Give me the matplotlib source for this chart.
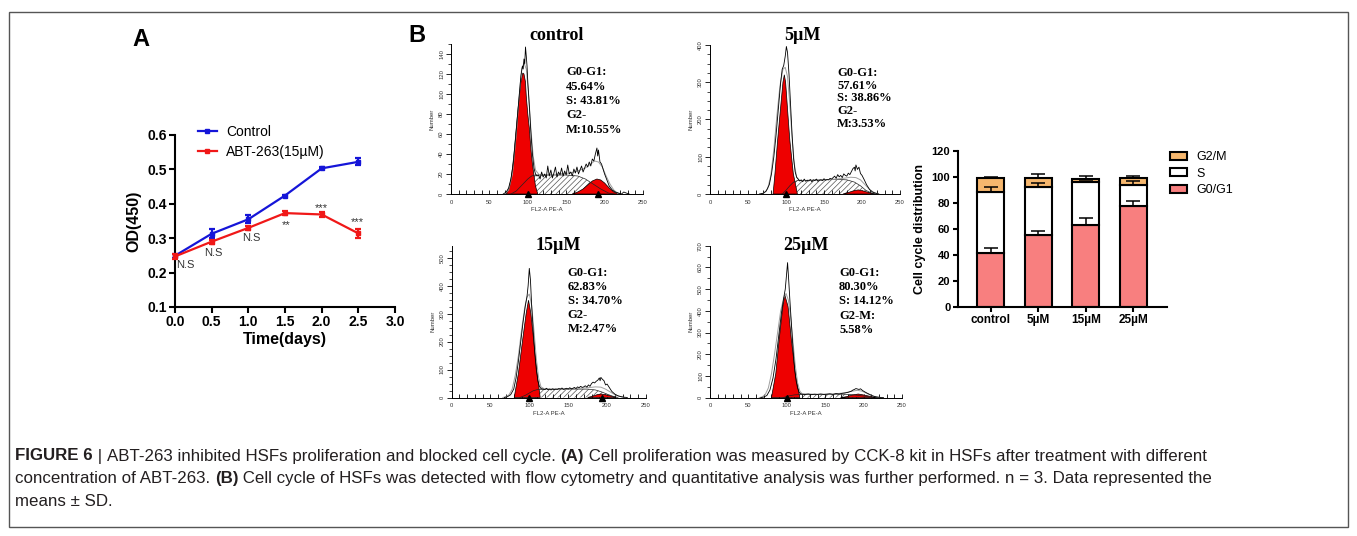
import matplotlib
matplotlib.use('Agg')
import matplotlib.pyplot as plt
from matplotlib.patches import Rectangle
from matplotlib.ticker import MultipleLocator
import numpy as np

plt.rcParams['font.family'] = ['Liberation Sans', 'DejaVu Sans']
plt.rcParams['hatch.linewidth'] = 0.5

# ---------------- Panel A data ----------------
time_days = [0.0, 0.5, 1.0, 1.5, 2.0, 2.5]
od_control = [0.249, 0.313, 0.355, 0.424, 0.503, 0.522]
od_control_err = [0.006, 0.013, 0.011, 0.003, 0.003, 0.010]
od_abt = [0.247, 0.290, 0.330, 0.373, 0.369, 0.314]
od_abt_err = [0.008, 0.006, 0.006, 0.007, 0.006, 0.012]
sig_labels = ['N.S', 'N.S', 'N.S', '**', '***', '***']
sig_y = [0.222, 0.257, 0.300, 0.338, 0.388, 0.348]
sig_x = [0.136, 0.52, 1.046, 1.51, 1.99, 2.49]

# ---------------- Panel B histogram data ----------------
# control
CTRL_RAW_X = [68,72,75,78,81,84,87,89,91,93,94,95,96,97,98,99,100,102,104,106,108,110,112,114,116,118,120,122,124,126,128,130,132,134,136,138,140,142,144,146,148,150,152,154,156,158,160,162,164,166,168,170,172,174,176,178,180,182,184,186,188,190,191,192,194,196,198,200,203,206,210,214,218,222,225,228,232]
CTRL_RAW_Y = [0,2,6,15,30,55,82,100,118,128,125,135,130,147,138,128,112,88,62,40,26,20,18,19,15,22,17,20,16,28,18,24,16,21,27,17,22,19,26,18,23,19,29,20,22,18,25,21,27,20,24,28,22,26,30,27,32,28,35,33,40,46,38,44,32,30,25,20,14,8,4,2,1,0,2,1,0]
CTRL_ENV_X = [70,75,80,85,89,92,95,98,101,104,107,110,115,125,140,155,165,175,182,187,192,197,202,207,212,218]
CTRL_ENV_Y = [0,4,20,60,100,125,131,125,100,65,38,24,19,19,20,21,23,26,30,33,32,27,18,10,4,0]
CTRL_S_X = [78,85,90,95,100,105,110,130,150,165,175,185,195,205,212]
CTRL_S_Y = [0,3,7,11,15,18,19,19,19,18,15,10,5,1,0]
CTRL_G1_X = [72,76,79,82,85,87,89,91,93.5,95,97,98,100,102,104,106,108,110,113]
CTRL_G1_Y = [0,6,19,40,66,83,98,112,121,120,112,98,80,66,45,30,19,8,0]
CTRL_G2_X = [158,165,172,178,184,190,195,200,206,212,220]
CTRL_G2_Y = [0,2,5,9,13,15,14,11,6,2,0]
CTRL_MARKS = [100, 192]
CTRL_TEXT = ['G0-G1:', '45.64%', 'S: 43.81%', 'G2-', 'M:10.55%']

# 5 uM
UM5_RAW_X = [65,70,74,78,81,84,87,90,93,95,97,99,100.5,102,104,106,108,110,112,114,116,118,120,122,124,126,128,130,132,134,136,138,140,142,144,146,148,150,152,154,156,158,160,162,164,166,168,170,172,174,176,178,180,182,184,186,188,190,191,192,194,196,198,200,203,206,210,214,218,222]
UM5_RAW_Y = [0,2,8,25,55,100,160,230,300,335,345,370,396,380,320,240,160,95,60,45,40,35,38,33,40,34,37,35,39,33,38,36,40,34,37,38,36,41,37,39,38,42,40,44,48,42,52,46,50,44,54,50,48,56,52,60,68,72,62,78,66,72,55,50,38,25,12,5,2,0]
UM5_ENV_X = [68,72,76,80,84,88,92,96,99,102,105,108,111,114,118,130,150,165,175,185,192,198,204,210,216,222]
UM5_ENV_Y = [0,4,15,50,120,210,290,335,340,315,240,150,80,45,36,36,38,40,42,45,44,38,25,12,4,0]
UM5_S_X = [95,100,105,110,115,130,150,170,180,190,198,205,212,218]
UM5_S_Y = [0,10,22,32,36,37,38,39,38,32,22,10,3,0]
UM5_G1_X = [83,85.5,89,93,96,97.8,99.5,101.8,105,109.6,115]
UM5_G1_Y = [0,55,145,234,300,320,300,234,145,55,0]
UM5_G2_X = [175,182,188,195,202,209,217]
UM5_G2_Y = [0,4,8,11,8,4,0]
UM5_MARKS = [100]
UM5_TEXT = ['G0-G1:', '57.61%', 'S: 38.86%', 'G2-', 'M:3.53%']

# 15 uM
UM15_RAW_X = [68,72,76,80,83,86,89,92,95,97,98.5,100,101.5,103,105,107,109,111,113,115,118,120,122,124,126,128,130,132,134,136,138,140,142,144,146,148,150,152,154,156,158,160,162,164,166,168,170,172,174,176,178,180,182,184,186,188,190,191,192,194,196,198,200,203,206,210,214,218,222,226]
UM15_RAW_Y = [0,3,10,30,70,130,200,270,330,360,400,462,420,330,240,160,100,60,40,32,30,28,33,28,30,27,31,28,30,29,32,30,34,29,31,33,30,35,31,33,36,32,38,35,40,36,38,42,37,45,40,50,55,52,58,62,70,60,72,65,60,45,48,35,22,12,6,3,1,0]
UM15_ENV_X = [66,70,74,78,82,86,90,94,97,100,103,106,109,112,115,120,140,160,175,185,192,198,204,210,216,222]
UM15_ENV_Y = [0,3,10,30,80,150,240,320,360,370,330,240,140,70,38,30,30,32,35,38,37,30,20,10,4,0]
UM15_S_X = [88,95,100,105,110,120,140,160,175,185,193,200,207,214]
UM15_S_Y = [0,8,16,24,28,30,30,30,30,27,20,12,5,0]
UM15_G1_X = [80.6,86,91.4,96,99,102,105.6,110,114]
UM15_G1_Y = [0,86,205,301,348,301,205,86,0]
UM15_G2_X = [175,182,187,192,198,205,212]
UM15_G2_Y = [0,5,10,12.5,10,5,0]
UM15_MARKS = [100, 193]
UM15_TEXT = ['G0-G1:', '62.83%', 'S: 34.70%', 'G2-', 'M:2.47%']

# 25 uM
UM25_RAW_X = [66,70,74,78,82,86,90,93,96,98,99.5,101,102.5,104,106,108,110,112,114,116,118,120,124,128,132,136,140,144,148,152,156,160,164,168,172,176,180,184,186,188,190,192,194,196,198,200,204,208,212,216,220,226]
UM25_RAW_Y = [0,3,10,35,90,180,300,390,460,500,560,622,540,450,340,230,140,80,45,25,18,16,15,17,14,16,15,17,15,16,18,15,19,17,20,22,25,30,35,38,42,40,38,41,35,30,22,15,8,4,2,0]
UM25_ENV_X = [64,68,72,76,80,84,88,92,96,99,102,105,108,111,114,117,120,140,160,175,185,192,198,204,210,216,222]
UM25_ENV_Y = [0,4,15,45,110,200,300,400,460,480,450,370,260,150,70,30,18,16,17,22,30,34,30,20,10,4,0]
UM25_S_X = [95,100,105,110,120,140,160,175,185,195,205,212]
UM25_S_Y = [0,6,10,13,15,15,16,16,14,10,5,0]
UM25_G1_X = [80,85.7,90,94.8,97.4,101.7,106,111,117]
UM25_G1_Y = [0,112,266,419,473,419,266,112,0]
UM25_G2_X = [170,178,185,193,201,210,220]
UM25_G2_Y = [0,5,12,17,12,5,0]
UM25_MARKS = [100]
UM25_TEXT = ['G0-G1:', '80.30%', 'S: 14.12%', 'G2-M:', '5.58%']

# ---------------- Bar chart data ----------------
groups = ['control', '5\u00b5M', '15\u00b5M', '25\u00b5M']
g0g1 = [41.0, 55.0, 63.0, 77.5]
g0g1_err = [4.5, 3.5, 5.0, 4.0]
s_phase = [47.0, 37.0, 33.0, 16.0]
s_err = [4.0, 3.5, 1.0, 3.0]
g2m = [11.3, 7.3, 2.5, 5.8]
g2m_err = [0.7, 2.5, 2.3, 1.5]

# ---------------- Figure ----------------
W, H = 1357, 536
fig = plt.figure(figsize=(W / 100, H / 100), dpi=100)
fig.patch.set_facecolor('white')


def ax_px(left, top, right, bottom):
    return fig.add_axes([left / W, 1 - bottom / H, (right - left) / W, (bottom - top) / H])


def ftext(x, y, s, **kw):
    return fig.text(x / W, 1 - y / H, s, **kw)


fig.add_artist(Rectangle((9 / W, 1 - 527 / H), (1348 - 9) / W, (527 - 12) / H,
                         transform=fig.transFigure, fill=False, edgecolor='#555555', lw=1.0))

# ---------------- Panel A ----------------
blue = '#1515D8'
red = '#F01818'
axA = ax_px(175, 135, 395, 307)
cA = axA.errorbar(time_days, od_control, yerr=od_control_err, color=blue, lw=1.6, marker='s', ms=3,
                  capsize=2.5, elinewidth=1.6, capthick=1.6, label='Control', clip_on=False, zorder=3)
cB = axA.errorbar(time_days, od_abt, yerr=od_abt_err, color=red, lw=1.6, marker='s', ms=3,
                  capsize=2.5, elinewidth=1.6, capthick=1.6, label='ABT-263(15\u00b5M)', clip_on=False, zorder=4)
axA.set_xlim(0, 3)
axA.set_ylim(0.1, 0.6)
axA.set_xticks([0, 0.5, 1.0, 1.5, 2.0, 2.5, 3.0])
axA.set_yticks([0.1, 0.2, 0.3, 0.4, 0.5, 0.6])
axA.xaxis.set_major_formatter(matplotlib.ticker.FormatStrFormatter('%.1f'))
axA.yaxis.set_major_formatter(matplotlib.ticker.FormatStrFormatter('%.1f'))
for sp in ['top', 'right']:
    axA.spines[sp].set_visible(False)
for sp in ['left', 'bottom']:
    axA.spines[sp].set_linewidth(1.5)
axA.tick_params(direction='out', length=4, width=1.5, labelsize=10, pad=2)
for lab in axA.get_xticklabels() + axA.get_yticklabels():
    lab.set_fontweight('bold')
axA.set_xlabel('Time(days)', fontsize=11.5, fontweight='bold', labelpad=2)
axA.set_ylabel('OD(450)', fontsize=11.5, fontweight='bold', labelpad=4)
for sx, sy, sl in zip(sig_x, sig_y, sig_labels):
    axA.text(sx, sy, sl, fontsize=8, ha='center', va='center', color='#333333')
axA.legend(handles=[cA[0], cB[0]], labels=['Control', 'ABT-263(15\u00b5M)'], loc='upper left',
           bbox_to_anchor=(0.1045, 1.06), frameon=False, fontsize=10, handlelength=1.35,
           handletextpad=0.7, labelspacing=0.42, borderpad=0, borderaxespad=0)
ftext(141, 40, 'A', fontsize=17, fontweight='bold', ha='center', va='center')
ftext(417, 36, 'B', fontsize=17, fontweight='bold', ha='center', va='center')

# ---------------- Panel B histograms ----------------
serif = ['Liberation Serif', 'DejaVu Serif']


def draw_hist(rect, ymax, ymajor, yminor, raw_x, raw_y, env_x, env_y, s_x, s_y,
              g1_x, g1_y, g2_x, g2_y, marks, title, title_xy, lines, text_x, text_y0, text_y1):
    ax = ax_px(*rect)
    ax.fill_between(s_x, s_y, 0, facecolor='white', edgecolor='#555555', hatch='//////', linewidth=0, zorder=1)
    ax.fill(g1_x, g1_y, facecolor='#EE0000', edgecolor='black', lw=0.5, zorder=2)
    ax.fill(g2_x, g2_y, facecolor='#EE0000', edgecolor='black', lw=0.5, zorder=2)
    ax.plot(s_x, s_y, color='#222222', lw=0.5, zorder=3)
    ax.plot(env_x, env_y, color='#a0a0a0', lw=0.7, zorder=4)
    ax.plot(raw_x, raw_y, color='black', lw=0.6, zorder=5)
    ax.plot(marks, [0] * len(marks), linestyle='none', marker='^', color='black', ms=4.5,
            clip_on=False, zorder=6)
    ax.set_xlim(0, 250)
    ax.set_ylim(0, ymax)
    ax.xaxis.set_major_locator(MultipleLocator(50))
    ax.xaxis.set_minor_locator(MultipleLocator(10))
    ax.yaxis.set_major_locator(MultipleLocator(ymajor))
    ax.yaxis.set_minor_locator(MultipleLocator(yminor))
    for sp in ['top', 'right']:
        ax.spines[sp].set_visible(False)
    for sp in ['left', 'bottom']:
        ax.spines[sp].set_linewidth(0.7)
    ax.tick_params(axis='x', which='both', direction='in', length=3, width=0.6, labelsize=4.2,
                   labelcolor='#333333', pad=4)
    ax.tick_params(axis='y', which='major', direction='out', length=3.5, width=0.6, labelsize=4.2,
                   labelcolor='#333333', pad=1.5)
    ax.tick_params(axis='y', which='minor', direction='out', length=2.2, width=0.5)
    for lab in ax.get_yticklabels():
        lab.set_rotation(90)
        lab.set_va('center')
    ax.set_xlabel('FL2-A PE-A', fontsize=4.3, color='#333333', labelpad=2)
    ax.set_ylabel('Number', fontsize=4.3, color='#333333', labelpad=3)
    ax.patch.set_alpha(0)
    ftext(title_xy[0], title_xy[1], title, fontsize=13, fontweight='bold', family=serif,
          ha='center', va='center')
    n = len(lines)
    for i, ln in enumerate(lines):
        yy = text_y0 + (text_y1 - text_y0) * i / (n - 1)
        ftext(text_x, yy, ln, fontsize=9, fontweight='bold', family=serif, ha='left', va='center')
    return ax


draw_hist((451, 44, 643, 194), 150, 20, 10, CTRL_RAW_X, CTRL_RAW_Y, CTRL_ENV_X, CTRL_ENV_Y,
          CTRL_S_X, CTRL_S_Y, CTRL_G1_X, CTRL_G1_Y, CTRL_G2_X, CTRL_G2_Y, CTRL_MARKS,
          'control', (557, 36), CTRL_TEXT, 566, 72, 130)
draw_hist((710, 45, 900, 194), 400, 100, 25, UM5_RAW_X, UM5_RAW_Y, UM5_ENV_X, UM5_ENV_Y,
          UM5_S_X, UM5_S_Y, UM5_G1_X, UM5_G1_Y, UM5_G2_X, UM5_G2_Y, UM5_MARKS,
          '5\u00b5M', (802, 35), UM5_TEXT, 837, 73, 124)
draw_hist((451.5, 246, 646, 397.5), 542, 100, 25, UM15_RAW_X, UM15_RAW_Y, UM15_ENV_X, UM15_ENV_Y,
          UM15_S_X, UM15_S_Y, UM15_G1_X, UM15_G1_Y, UM15_G2_X, UM15_G2_Y, UM15_MARKS,
          '15\u00b5M', (558, 246), UM15_TEXT, 567.5, 273, 329)
draw_hist((710, 245.7, 902, 397.7), 700, 100, 50, UM25_RAW_X, UM25_RAW_Y, UM25_ENV_X, UM25_ENV_Y,
          UM25_S_X, UM25_S_Y, UM25_G1_X, UM25_G1_Y, UM25_G2_X, UM25_G2_Y, UM25_MARKS,
          '25\u00b5M', (806, 245.5), UM25_TEXT, 839, 272.5, 330)

# ---------------- Bar chart ----------------
axC = ax_px(958, 150.7, 1167, 306.7)
xpos = np.arange(len(groups))
g0 = np.array(g0g1)
sp_ = np.array(s_phase)
g2 = np.array(g2m)
bw = 0.57
salmon = '#F87F7F'
orange = '#F6B76E'
b1 = axC.bar(xpos, g0, width=bw, color=salmon, edgecolor='black', lw=1.5, label='G0/G1', zorder=2)
b2 = axC.bar(xpos, sp_, bottom=g0, width=bw, color='white', edgecolor='black', lw=1.5, label='S', zorder=2)
b3 = axC.bar(xpos, g2, bottom=g0 + sp_, width=bw, color=orange, edgecolor='black', lw=1.5, label='G2/M', zorder=2)
zeros = np.zeros(len(groups))
for top, err in [(g0, g0g1_err), (g0 + sp_, s_err), (g0 + sp_ + g2, g2m_err)]:
    axC.errorbar(xpos, top, yerr=[zeros, err], fmt='none', ecolor='black', elinewidth=1.1,
                 capsize=5, capthick=1.1, zorder=3)
axC.set_xlim(-0.69, 3.71)
axC.set_ylim(0, 120)
axC.set_yticks([0, 20, 40, 60, 80, 100, 120])
axC.set_xticks(xpos)
axC.set_xticklabels(groups)
for sp in ['top', 'right']:
    axC.spines[sp].set_visible(False)
for sp in ['left', 'bottom']:
    axC.spines[sp].set_linewidth(1.5)
axC.tick_params(direction='out', length=3.5, width=1.5, labelsize=8, pad=2)
axC.tick_params(axis='x', labelsize=8.5)
for lab in axC.get_xticklabels() + axC.get_yticklabels():
    lab.set_fontweight('bold')
axC.set_ylabel('Cell cycle distribution', fontsize=9, fontweight='bold', labelpad=4)
axC.legend(handles=[b3, b2, b1], labels=['G2/M', 'S', 'G0/G1'], loc='upper left',
           bbox_to_anchor=(1.014, 0.995), frameon=False, fontsize=9, handlelength=1.35,
           handleheight=0.6, handletextpad=0.8, labelspacing=0.35, borderpad=0, borderaxespad=0)

# ---------------- Caption ----------------
cap_color = '#231F20'
cap_size = 12.2
renderer = fig.canvas.get_renderer()


def seg_width(s, weight):
    t1 = fig.text(0, 0, '|' + s + '|', fontsize=cap_size, fontweight=weight)
    t2 = fig.text(0, 0, '||', fontsize=cap_size, fontweight=weight)
    w = t1.get_window_extent(renderer).width - t2.get_window_extent(renderer).width
    t1.remove()
    t2.remove()
    return w


caption_lines = [
    [('FIGURE 6', 'bold'), (' | ', 'normal'), ('ABT-263 inhibited HSFs proliferation and blocked cell cycle. ', 'normal'),
     ('(A)', 'bold'), (' Cell proliferation was measured by CCK-8 kit in HSFs after treatment with different', 'normal')],
    [('concentration of ABT-263. ', 'normal'), ('(B)', 'bold'),
     (' Cell cycle of HSFs was detected with flow cytometry and quantitative analysis was further performed. n = 3. Data represented the', 'normal')],
    [('means \u00b1 SD.', 'normal')],
]
cap_baseline = [460.5, 483, 505.5]
for line, yy in zip(caption_lines, cap_baseline):
    xx = 15.0
    for s, wgt in line:
        ftext(xx, yy, s, fontsize=cap_size, fontweight=wgt, color=cap_color, ha='left', va='baseline')
        xx += seg_width(s, wgt)

fig.savefig('out.png', dpi=100, facecolor='white')
